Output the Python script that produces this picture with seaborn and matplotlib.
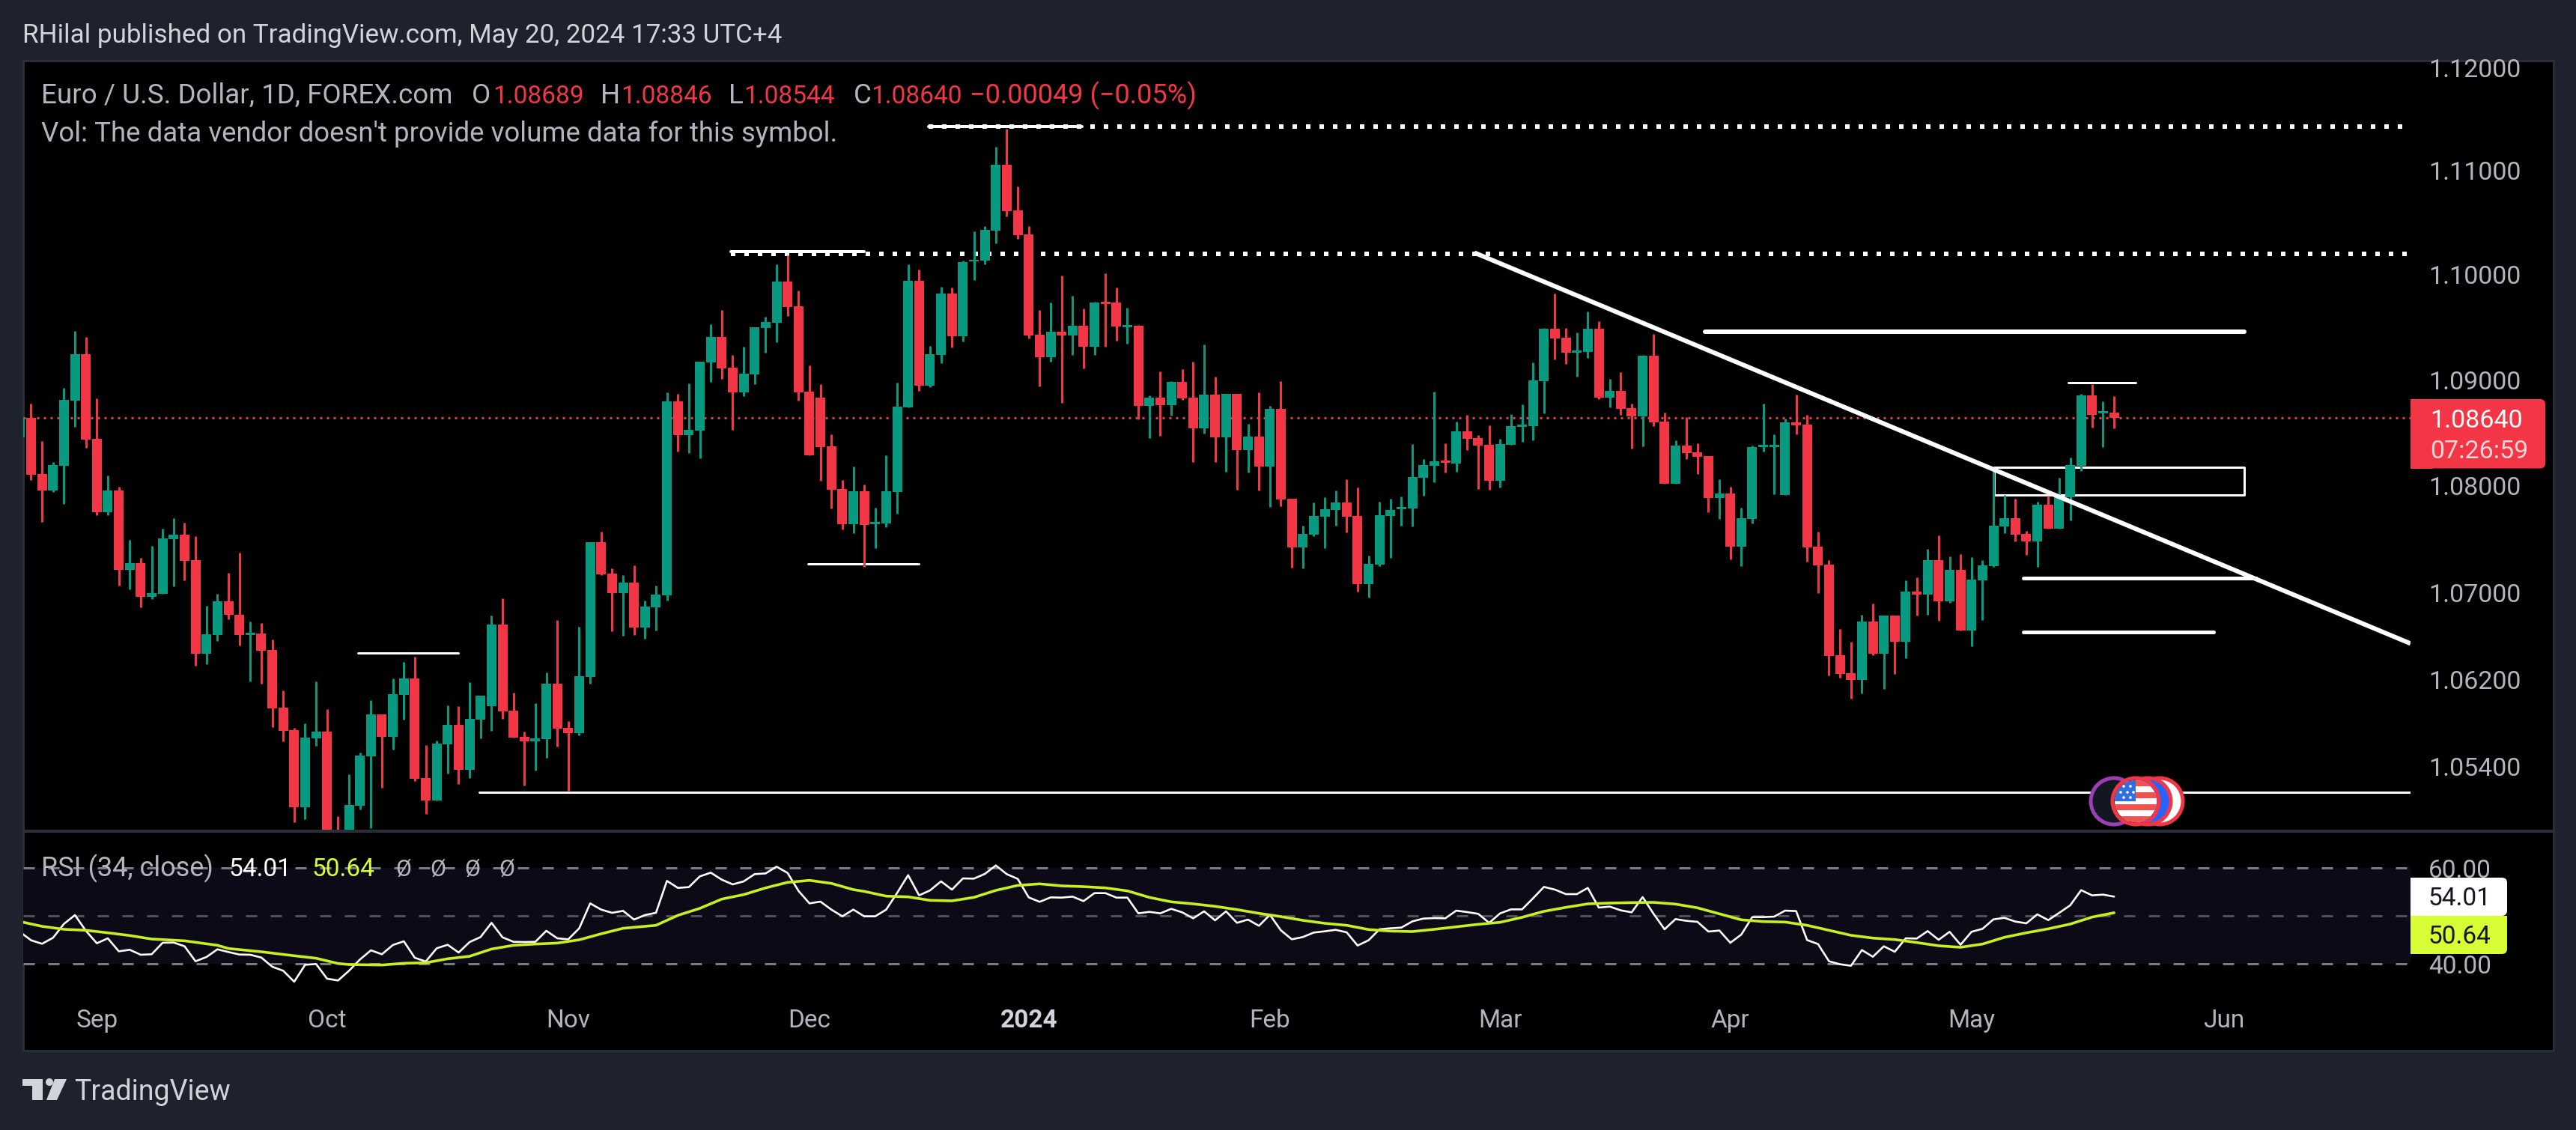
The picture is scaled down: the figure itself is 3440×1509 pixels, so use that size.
"""
EUR/USD daily candles with RSI pane, redrawn from a TradingView snapshot
"""

import numpy as np
import pandas as pd
import matplotlib
matplotlib.use('Agg')
import matplotlib.pyplot as plt
from matplotlib.patches import Circle, Rectangle, Polygon, FancyBboxPatch
from matplotlib.ticker import NullLocator
import seaborn as sns

# Daily bars, first one is cut off by the left edge of the chart
opens = [1.08457, 1.08641, 1.08112, 1.07957, 1.08190, 1.08803, 1.09242, 1.08443, 1.07755, 1.07957, 1.07217, 1.07280,
         1.06965, 1.06993, 1.07503, 1.07545, 1.07307, 1.06433, 1.06606, 1.06924, 1.06799, 1.06606, 1.06620, 1.06467,
         1.05936, 1.05730, 1.05024, 1.05655, 1.05716, 1.04779, 1.04765, 1.05038, 1.05490, 1.05874, 1.05668, 1.06053,
         1.06205, 1.05291, 1.05086, 1.05600, 1.05778, 1.05367, 1.05826, 1.05949, 1.06703, 1.05908, 1.05668, 1.05627,
         1.05648, 1.06156, 1.05750, 1.05703, 1.06218, 1.07475, 1.07182, 1.07000, 1.07098, 1.06675, 1.06869, 1.06979,
         1.08796, 1.08479, 1.08521, 1.09164, 1.09405, 1.09114, 1.08880, 1.09050, 1.09491, 1.09540, 1.09932, 1.09697,
         1.08887, 1.08831, 1.08373, 1.07971, 1.07643, 1.07950, 1.07643, 1.07650, 1.07943, 1.08739, 1.09939, 1.08944,
         1.09235, 1.09818, 1.09413, 1.10125, 1.10132, 1.10426, 1.11058, 1.10620, 1.10383, 1.09427, 1.09214, 1.09455,
         1.09420, 1.09512, 1.09313, 1.09740, 1.09733, 1.09498, 1.09512, 1.08753, 1.08831, 1.08760, 1.08979, 1.08831,
         1.08542, 1.08859, 1.08457, 1.08866, 1.08338, 1.08464, 1.08183, 1.08725, 1.07880, 1.07426, 1.07545, 1.07713,
         1.07776, 1.07846, 1.07720, 1.07084, 1.07266, 1.07720, 1.07783, 1.07790, 1.08077, 1.08190, 1.08239, 1.08211,
         1.08514, 1.08450, 1.08387, 1.08049, 1.08387, 1.08556, 1.08563, 1.08986, 1.09484, 1.09398, 1.09256, 1.09263,
         1.09484, 1.08831, 1.08894, 1.08732, 1.08655, 1.09228, 1.08605, 1.08020, 1.08380, 1.08316, 1.08281, 1.07887,
         1.07929, 1.07433, 1.07692, 1.08366, 1.08366, 1.07915, 1.08598, 1.08577, 1.07433, 1.07266, 1.06419, 1.06253,
         1.06191, 1.06737, 1.06433, 1.06786, 1.06544, 1.07014, 1.06986, 1.07307, 1.06924, 1.07217, 1.06654, 1.07119,
         1.07252, 1.07622, 1.07699, 1.07552, 1.07482, 1.07825, 1.07601, 1.07894, 1.08190, 1.08852, 1.08683, 1.08689]
highs = [1.08648, 1.08774, 1.08422, 1.08225, 1.08922, 1.09462, 1.09405, 1.08824, 1.08098, 1.07992, 1.07496, 1.07328,
         1.07440, 1.07601, 1.07699, 1.07657, 1.07531, 1.06882, 1.06993, 1.07189, 1.07377, 1.06737, 1.06723, 1.06564,
         1.06094, 1.05750, 1.05792, 1.06177, 1.05922, 1.04942, 1.05326, 1.05524, 1.06004, 1.05874, 1.06205, 1.06357,
         1.06405, 1.05593, 1.05634, 1.05956, 1.05949, 1.06170, 1.06046, 1.06786, 1.06952, 1.06073, 1.05716, 1.05977,
         1.06260, 1.06751, 1.05812, 1.06682, 1.07475, 1.07573, 1.07231, 1.07168, 1.07259, 1.06931, 1.07070, 1.08880,
         1.08866, 1.08965, 1.09171, 1.09526, 1.09661, 1.09235, 1.09313, 1.09498, 1.09597, 1.10096, 1.10182, 1.09846,
         1.09135, 1.08958, 1.08486, 1.08056, 1.08183, 1.08013, 1.07797, 1.08288, 1.08972, 1.10103, 1.10046, 1.09320,
         1.09882, 1.09875, 1.10132, 1.10412, 1.10462, 1.11232, 1.11405, 1.10849, 1.10469, 1.09661, 1.09733, 1.09989,
         1.09797, 1.09676, 1.09740, 1.10010, 1.09875, 1.09683, 1.09519, 1.08852, 1.09078, 1.08986, 1.09099, 1.09171,
         1.09334, 1.09028, 1.08866, 1.08866, 1.08584, 1.08880, 1.08753, 1.08986, 1.07880, 1.07629, 1.07846, 1.07894,
         1.07957, 1.08063, 1.07985, 1.07349, 1.07853, 1.07880, 1.07901, 1.08394, 1.08253, 1.08887, 1.08401, 1.08605,
         1.08669, 1.08479, 1.08570, 1.08443, 1.08676, 1.08767, 1.09164, 1.09491, 1.09818, 1.09491, 1.09448, 1.09647,
         1.09555, 1.09007, 1.09071, 1.08774, 1.09235, 1.09434, 1.08690, 1.08429, 1.08648, 1.08401, 1.08281, 1.08063,
         1.07992, 1.07797, 1.08380, 1.08774, 1.08486, 1.08634, 1.08859, 1.08669, 1.07573, 1.07307, 1.06661, 1.06544,
         1.06799, 1.06903, 1.06786, 1.06786, 1.07119, 1.07147, 1.07412, 1.07538, 1.07342, 1.07363, 1.07335, 1.07307,
         1.08133, 1.07915, 1.07880, 1.07580, 1.07853, 1.07908, 1.08077, 1.08267, 1.08866, 1.08958, 1.08796, 1.08846]
lows = [1.08457, 1.08056, 1.07664, 1.07943, 1.07832, 1.08556, 1.08359, 1.07727, 1.07727, 1.07070, 1.07035, 1.06869,
        1.06945, 1.06993, 1.07063, 1.07119, 1.06322, 1.06336, 1.06550, 1.06758, 1.06509, 1.06177, 1.06156, 1.05757,
        1.05627, 1.04888, 1.04915, 1.05586, 1.04616, 1.04410, 1.04616, 1.05003, 1.04833, 1.05202, 1.05552, 1.05826,
        1.05264, 1.04963, 1.05086, 1.05332, 1.05236, 1.05291, 1.05655, 1.05723, 1.05833, 1.05661, 1.05222, 1.05360,
        1.05476, 1.05579, 1.05175, 1.05682, 1.06156, 1.07168, 1.06647, 1.06599, 1.06606, 1.06571, 1.06654, 1.06931,
        1.08323, 1.08309, 1.08260, 1.08979, 1.09007, 1.08528, 1.08845, 1.08958, 1.09256, 1.09356, 1.09605, 1.08803,
        1.08288, 1.08049, 1.07790, 1.07594, 1.07559, 1.07245, 1.07419, 1.07615, 1.07741, 1.08739, 1.08894, 1.08930,
        1.09157, 1.09306, 1.09363, 1.09946, 1.10096, 1.10297, 1.10562, 1.10347, 1.09391, 1.08937, 1.09171, 1.08782,
        1.09235, 1.09107, 1.09235, 1.09313, 1.09370, 1.09341, 1.08627, 1.08450, 1.08471, 1.08662, 1.08810, 1.08225,
        1.08493, 1.08225, 1.08133, 1.07964, 1.08126, 1.07957, 1.07804, 1.07811, 1.07238, 1.07231, 1.07531, 1.07419,
        1.07629, 1.07566, 1.07014, 1.06959, 1.07252, 1.07328, 1.07629, 1.07622, 1.07908, 1.08035, 1.08126, 1.08133,
        1.08338, 1.07971, 1.07964, 1.07985, 1.08387, 1.08415, 1.08429, 1.08683, 1.09192, 1.09150, 1.09028, 1.09207,
        1.08817, 1.08739, 1.08669, 1.08352, 1.08373, 1.08563, 1.08020, 1.08020, 1.08253, 1.08112, 1.07755, 1.07692,
        1.07314, 1.07252, 1.07650, 1.08323, 1.07922, 1.07915, 1.08486, 1.07294, 1.07000, 1.06232, 1.06211, 1.06018,
        1.06067, 1.06419, 1.06108, 1.06246, 1.06391, 1.06786, 1.06793, 1.06744, 1.06910, 1.06654, 1.06502, 1.06751,
        1.07245, 1.07559, 1.07482, 1.07356, 1.07245, 1.07601, 1.07601, 1.07678, 1.08140, 1.08549, 1.08366, 1.08544]
closes = [1.08648, 1.08105, 1.07957, 1.08197, 1.08810, 1.09242, 1.08436, 1.07755, 1.07957, 1.07217, 1.07280, 1.06965,
          1.07000, 1.07510, 1.07545, 1.07300, 1.06433, 1.06613, 1.06924, 1.06793, 1.06606, 1.06627, 1.06460, 1.05929,
          1.05723, 1.05024, 1.05661, 1.05716, 1.04752, 1.04718, 1.05044, 1.05497, 1.05874, 1.05668, 1.06060, 1.06205,
          1.05284, 1.05086, 1.05607, 1.05778, 1.05367, 1.05833, 1.06046, 1.06703, 1.05901, 1.05661, 1.05627, 1.05655,
          1.06156, 1.05743, 1.05703, 1.06225, 1.07475, 1.07175, 1.07000, 1.07098, 1.06675, 1.06876, 1.06986, 1.08796,
          1.08479, 1.08528, 1.09171, 1.09405, 1.09107, 1.08880, 1.09057, 1.09498, 1.09548, 1.09932, 1.09690, 1.08880,
          1.08288, 1.08366, 1.07964, 1.07643, 1.07950, 1.07636, 1.07664, 1.07950, 1.08746, 1.09939, 1.08944, 1.09242,
          1.09818, 1.09413, 1.10118, 1.10146, 1.10433, 1.11058, 1.10613, 1.10376, 1.09420, 1.09214, 1.09455, 1.09420,
          1.09512, 1.09313, 1.09733, 1.09718, 1.09505, 1.09519, 1.08753, 1.08831, 1.08760, 1.08979, 1.08824, 1.08542,
          1.08859, 1.08457, 1.08866, 1.08338, 1.08464, 1.08183, 1.08725, 1.07874, 1.07426, 1.07552, 1.07720, 1.07783,
          1.07846, 1.07713, 1.07084, 1.07273, 1.07727, 1.07776, 1.07804, 1.08084, 1.08197, 1.08232, 1.08218, 1.08514,
          1.08443, 1.08380, 1.08049, 1.08394, 1.08563, 1.08577, 1.08993, 1.09484, 1.09391, 1.09256, 1.09277, 1.09484,
          1.08831, 1.08894, 1.08725, 1.08655, 1.09228, 1.08598, 1.08020, 1.08380, 1.08309, 1.08274, 1.07887, 1.07929,
          1.07433, 1.07699, 1.08366, 1.08387, 1.08387, 1.08598, 1.08570, 1.07426, 1.07259, 1.06412, 1.06246, 1.06191,
          1.06737, 1.06433, 1.06786, 1.06544, 1.07014, 1.06986, 1.07307, 1.06924, 1.07217, 1.06654, 1.07126, 1.07259,
          1.07629, 1.07699, 1.07545, 1.07482, 1.07825, 1.07601, 1.07901, 1.08197, 1.08852, 1.08669, 1.08704, 1.08640]

# RSI(34) for every bar, same order as the candles
rsi_values = [46.61, 44.90, 44.17, 45.42, 48.33, 50.16, 46.88, 44.27, 45.31, 42.60, 42.92, 41.88, 41.98, 44.38, 44.43,
              43.65, 40.52, 41.41, 43.02, 42.45, 41.93, 41.88, 41.30, 39.38, 38.54, 36.25, 39.79, 39.95, 36.88, 36.51,
              38.54, 40.89, 42.81, 41.98, 43.91, 44.69, 41.25, 40.47, 43.23, 43.96, 42.34, 44.53, 45.57, 48.54, 45.52,
              44.58, 44.53, 44.58, 46.88, 45.31, 45.10, 47.40, 52.60, 51.30, 50.63, 51.04, 49.22, 50.16, 50.63, 57.29,
              55.83, 55.99, 58.23, 59.01, 57.55, 56.56, 57.19, 58.70, 58.85, 60.26, 58.96, 55.21, 52.60, 52.97, 51.30,
              49.90, 51.30, 49.90, 49.90, 51.30, 54.79, 58.49, 54.27, 55.31, 57.19, 55.47, 57.81, 57.76, 58.75, 60.52,
              58.70, 57.71, 53.85, 52.92, 53.85, 53.80, 54.01, 53.07, 54.74, 54.74, 53.80, 53.80, 50.52, 50.83, 50.52,
              51.46, 50.73, 49.48, 50.94, 49.06, 50.94, 48.54, 49.22, 47.92, 50.21, 46.98, 45.10, 45.57, 46.51, 46.77,
              47.08, 46.56, 43.80, 44.90, 47.19, 47.40, 47.55, 48.85, 49.43, 49.53, 49.48, 51.09, 50.78, 50.42, 48.54,
              50.52, 51.35, 51.35, 53.65, 56.04, 55.47, 54.53, 54.53, 55.83, 51.72, 51.93, 51.15, 50.73, 53.91, 50.42,
              47.19, 49.32, 48.96, 48.75, 46.72, 46.93, 44.38, 46.09, 49.74, 49.74, 49.84, 51.09, 50.99, 44.95, 44.11,
              40.52, 39.90, 39.58, 42.86, 41.46, 43.65, 42.50, 45.31, 45.26, 46.82, 45.00, 46.67, 43.96, 46.67, 47.29,
              49.27, 49.58, 48.80, 48.44, 50.31, 49.11, 50.63, 52.19, 55.36, 54.27, 54.43, 54.01]

# RSI moving average, read at every second bar or so
rsi_ma_bars = [-1, 1, 3, 5, 7, 9, 11, 14, 17, 18, 21, 24, 26, 28, 29, 32, 34, 36, 38, 40, 42, 44, 46, 48, 50, 52, 54,
               57, 59, 61, 63, 65, 67, 69, 71, 73, 75] + list(range(76, 191, 2))
rsi_ma_values = [48.80, 47.81, 47.19, 46.98, 46.46, 45.89, 45.16, 44.79, 43.85, 43.18, 42.50, 41.67, 41.15, 40.05,
                 39.84, 39.74, 40.10, 40.21, 41.04, 41.56, 43.07, 43.85, 44.11, 44.32, 45.00, 46.25, 47.40, 48.02,
                 50.10, 51.56, 53.49, 54.43, 55.83, 56.98, 57.40, 56.77, 55.47,
                 55.10, 54.11, 53.96, 53.23, 53.13, 53.85, 55.31, 56.35, 56.67, 56.25, 56.09, 55.83, 55.21, 53.85,
                 52.92, 52.50, 51.98, 51.30, 50.52, 49.84, 49.06, 48.44, 48.02, 47.14, 46.82, 46.72, 47.19, 47.71,
                 48.23, 48.65, 49.69, 50.94, 51.77, 52.50, 52.66, 52.76, 52.81, 52.45, 51.67, 50.42,
                 49.17, 48.80, 48.70, 48.02, 46.98, 45.94, 45.36, 45.05, 44.43, 43.75, 43.44, 44.11, 45.52, 46.46,
                 47.29, 48.28, 49.74, 50.64]

price_ticks = [1.12, 1.11, 1.10, 1.09, 1.08, 1.07, 1.062, 1.054]
price_labels = ['1.12000', '1.11000', '1.10000', '1.09000', '1.08000', '1.07000', '1.06200', '1.05400']
rsi_ticks = [60, 40]
rsi_labels = ['60.00', '40.00']
month_bars = [6, 27, 49, 71, 91, 113, 134, 155, 177, 200]
month_labels = ['Sep', 'Oct', 'Nov', 'Dec', '2024', 'Feb', 'Mar', 'Apr', 'May', 'Jun']

last_price = 1.0864

# Hand drawn levels: (first bar, last bar, price, width in px)
dotted_levels = [(81.87, 216.5, 1.11427), (63.83, 216.8, 1.10200)]
solid_levels = [(81.87, 95.87, 1.11427, 4), (63.83, 75.99, 1.10218, 4), (29.8, 38.97, 1.0644, 3),
                (40.9, 217.04, 1.05161, 3), (70.87, 81.0, 1.07273, 3), (152.7, 201.9, 1.09455, 6),
                (185.8, 192.0, 1.08972, 3), (181.7, 202.97, 1.07139, 5), (181.7, 199.07, 1.0664, 5)]
trend_bars = [131.66, 217.04]
trend_prices = [1.10211, 1.0653]
box_bars = [179.07, 201.9]
box_prices = [1.07915, 1.08176]

BG = '#1e222d'
BORDER = '#2a2e39'
TEXT = '#b2b5be'
UP = '#089981'
DOWN = '#f23645'
LIME = '#d8ff36'
FONT = ['Roboto', 'DejaVu Sans']

W, H = 3441, 1509
CHART_L, CHART_R = 30.6, 3219
BAR_0, BAR_STEP = 41.5, 14.64


def px(v):
    # pixel sizes to points at dpi 100
    return v * 0.72


def add_axes_px(fig, left, top, right, bottom, **kw):
    return fig.add_axes([left / W, 1 - bottom / H, (right - left) / W, (bottom - top) / H], **kw)


sns.set_theme(style='dark', rc={'axes.facecolor': 'none', 'figure.facecolor': BG, 'axes.grid': False,
                                'xtick.bottom': False, 'ytick.left': False})
plt.rcParams['font.family'] = FONT

df = pd.DataFrame({'open': opens, 'high': highs, 'low': lows, 'close': closes})
df['bar'] = np.arange(len(df)) - 1
df['rsi'] = rsi_values
ma_df = pd.DataFrame({'bar': rsi_ma_bars, 'ma': rsi_ma_values})

fig = plt.figure(figsize=(W / 100, H / 100), dpi=100, facecolor=BG)

# background panel in pixel coordinates
ax_bg = add_axes_px(fig, 0, 0, W, H, zorder=0)
ax_bg.set_xlim(0, W)
ax_bg.set_ylim(H, 0)
ax_bg.axis('off')
ax_bg.add_patch(Rectangle((30.6, 81), 3410 - 30.6, 1403 - 81, fc='black', ec=BORDER, lw=px(3)))
ax_bg.add_patch(Rectangle((30.6, 1108), 3410 - 30.6, 4, fc=BORDER, ec='none'))

# x limits follow from the pixel width of one bar
x_min = (CHART_L - BAR_0) / BAR_STEP
x_max = (CHART_R - BAR_0) / BAR_STEP

ax_price = add_axes_px(fig, CHART_L, 81, CHART_R, 1108, zorder=1)
ax_price.set_yscale('log')

ax_price.axhline(last_price, color=DOWN, lw=px(3), ls=(0, (1, 2)), zorder=1)

# levels sit behind the candles, only the trend line runs over them
for first, last, level in dotted_levels:
    ax_price.plot([first, last], [level, level], color='white', lw=px(6), ls=(0, (1, 2)),
                  dash_capstyle='butt', zorder=1.5)
for first, last, level, width in solid_levels:
    ax_price.plot([first, last], [level, level], color='white', lw=px(width), solid_capstyle='round', zorder=1.5)
ax_price.plot([box_bars[0], box_bars[1], box_bars[1], box_bars[0], box_bars[0]],
              [box_prices[0], box_prices[0], box_prices[1], box_prices[1], box_prices[0]],
              color='white', lw=px(3), zorder=1.5)

for color, part in [(UP, df[df.close >= df.open]), (DOWN, df[df.close < df.open])]:
    ax_price.vlines(part.bar, part.low, part.high, color=color, lw=px(3), zorder=2)
    body_low = part[['open', 'close']].min(axis=1)
    body_high = part[['open', 'close']].max(axis=1)
    ax_price.bar(part.bar, body_high - body_low, bottom=body_low, width=0.89, color=color, lw=0, zorder=3)

ax_price.plot(trend_bars, trend_prices, color='white', lw=px(6), solid_capstyle='butt', zorder=5)

ax_price.set_xlim(x_min, x_max)
ax_price.set_ylim(1.0482, 1.12066)
ax_price.set_xticks([])
ax_price.yaxis.tick_right()
ax_price.set_yticks(price_ticks, price_labels)
ax_price.yaxis.set_minor_locator(NullLocator())
ax_price.tick_params(axis='y', which='both', length=0, pad=px(24), labelsize=24.5, labelcolor=TEXT)
sns.despine(ax=ax_price, left=True, bottom=True)

# RSI pane
ax_rsi = add_axes_px(fig, CHART_L, 1112, CHART_R, 1320, zorder=1)
ax_rsi.axhspan(40, 60, color='#0d0a18', lw=0, zorder=0)
ax_rsi.axhline(60, color='#787b86', lw=px(3), ls=(0, (5, 6)), zorder=1)
ax_rsi.axhline(50, color='#4f5059', lw=px(3), ls=(0, (5, 6)), zorder=1)
ax_rsi.axhline(40, color='#787b86', lw=px(3), ls=(0, (5, 6)), zorder=1)
sns.lineplot(data=df, x='bar', y='rsi', ax=ax_rsi, color='white', lw=px(2.6), errorbar=None, zorder=3)
sns.lineplot(data=ma_df, x='bar', y='ma', ax=ax_rsi, color='#c8f01e', lw=px(3.6), errorbar=None, zorder=4)

ax_rsi.set_xlim(x_min, x_max)
ax_rsi.set_ylim(40 - 33 / 6.4, 60 + 47 / 6.4)
ax_rsi.set_xlabel('')
ax_rsi.set_ylabel('')
ax_rsi.yaxis.tick_right()
ax_rsi.set_yticks(rsi_ticks, rsi_labels)
ax_rsi.set_xticks(month_bars, month_labels)
ax_rsi.tick_params(axis='y', length=0, pad=px(24), labelsize=24, labelcolor=TEXT)
ax_rsi.tick_params(axis='x', length=0, pad=px(27), labelsize=24, labelcolor=TEXT)
for tick_label in ax_rsi.get_xticklabels():
    if tick_label.get_text() == '2024':
        tick_label.set_fontweight('bold')
        tick_label.set_color('#d1d4dc')
sns.despine(ax=ax_rsi, left=True, bottom=True)

# texts, tags and icons on top, in pixel coordinates
ax_top = add_axes_px(fig, 0, 0, W, H, zorder=2)
ax_top.set_xlim(0, W)
ax_top.set_ylim(H, 0)
ax_top.axis('off')


def put(x, y, s, color=TEXT, size=24, **kw):
    ax_top.text(x, y, s, color=color, fontsize=size, va='baseline', ha=kw.pop('ha', 'left'), **kw)


put(30, 57, 'RHilal published on TradingView.com, May 20, 2024 17:33 UTC+4', color='#d1d4dc', size=25.2)
put(55, 138, 'Euro / U.S. Dollar, 1D, FOREX.com', size=26.5)
for x_letter, letter, x_value, value in [(630, 'O', 658, '1.08689'), (802, 'H', 829, '1.08846'),
                                         (973, 'L', 993, '1.08544'), (1140, 'C', 1163, '1.08640')]:
    put(x_letter, 138, letter, size=26.5)
    put(x_value, 138, value, color=DOWN)
put(1295, 138, '\u22120.00049 (\u22120.05%)', color=DOWN, size=26)
put(55, 189, "Vol: The data vendor doesn't provide volume data for this symbol.", size=26.4)

put(55, 1170, 'RSI (34, close)', size=26)
put(306, 1170, '54.01', color='white')
put(417, 1170, '50.64', color=LIME)
for x_sym in [528, 574, 620, 666]:
    put(x_sym, 1170, '\u00d8', size=22)

# last price tag
ax_top.add_patch(FancyBboxPatch((3230, 533), 169, 92.5, boxstyle='round,pad=0,rounding_size=7', fc=DOWN, ec='none'))
ax_top.add_patch(Rectangle((3219, 533), 30, 92.5, fc=DOWN, ec='none'))
put(3245, 571, '1.08640', color='white', size=24.5)
put(3245, 612, '07:26:59', color='#fbd5d9', size=24.5)

# RSI tags
ax_top.add_patch(FancyBboxPatch((3230, 1172), 118, 51, boxstyle='round,pad=0,rounding_size=7', fc='white', ec='none'))
ax_top.add_patch(Rectangle((3219, 1172), 30, 51, fc='white', ec='none'))
ax_top.add_patch(FancyBboxPatch((3230, 1223), 118, 51, boxstyle='round,pad=0,rounding_size=7', fc=LIME, ec='none'))
ax_top.add_patch(Rectangle((3219, 1223), 30, 51, fc=LIME, ec='none'))
ax_top.add_patch(Rectangle((3240, 1223), 108, 8, fc=LIME, ec='none'))
put(3243, 1209, '54.01', color='#131722')
put(3243, 1260, '50.64', color='#131722')

# event badges on the time line
ICON_Y = 1070
ax_top.add_patch(Circle((2823, ICON_Y), 31, fc='#131722', ec='#9c3fb5', lw=px(5)))
ax_top.add_patch(Circle((2884, ICON_Y), 31, fc='white', ec=DOWN, lw=px(5)))
ax_top.add_patch(Circle((2868, ICON_Y), 31, fc='#2962ff', ec=DOWN, lw=px(5)))
flag = Circle((2852, ICON_Y), 28, fc='white', ec='none')
ax_top.add_patch(flag)
for y_stripe in [-28, -12, 4, 20]:
    stripe = Rectangle((2824, ICON_Y + y_stripe), 56, 8, fc='#f0524f', ec='none')
    ax_top.add_patch(stripe)
    stripe.set_clip_path(flag)
canton = Rectangle((2824, ICON_Y - 28), 28, 28, fc='#2f6fe0', ec='none')
ax_top.add_patch(canton)
canton.set_clip_path(flag)
for star_x, star_y in [(2836, 1050), (2845, 1050), (2832, 1058), (2841, 1058), (2849, 1058), (2836, 1065), (2845, 1065)]:
    ax_top.add_patch(Circle((star_x, star_y), 1.8, fc='white', ec='none'))
ax_top.add_patch(Circle((2852, ICON_Y), 31, fc='none', ec=DOWN, lw=px(5)))

# TradingView logo
LOGO = '#d1d4dc'
ax_top.add_patch(Polygon([(30, 1441), (57, 1441), (57, 1469), (43, 1469), (43, 1450), (30, 1450)], fc=LOGO, ec='none'))
ax_top.add_patch(Circle((66, 1445), 5, fc=LOGO, ec='none'))
ax_top.add_patch(Polygon([(73, 1441), (89, 1441), (76, 1469), (62, 1469)], fc=LOGO, ec='none'))
put(99, 1469, 'TradingView', color=LOGO, size=27)

fig.savefig('out.png', dpi=100, facecolor=BG)
